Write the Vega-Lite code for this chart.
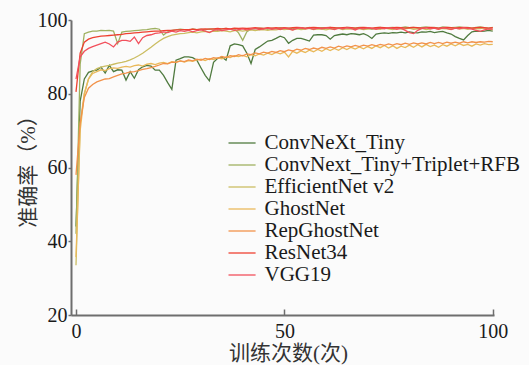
{
  "$schema": "https://vega.github.io/schema/vega-lite/v6.json",
  "autosize": {"type": "none"},
  "width": 423,
  "height": 295,
  "padding": {"left": 71, "top": 20, "right": 35, "bottom": 50},
  "background": "#fbfbfb",
  "config": {
    "view": {"stroke": null},
    "axis": {
      "grid": false,
      "domainColor": "#6e6e6e",
      "domainWidth": 2,
      "tickColor": "#6e6e6e",
      "tickWidth": 1.5,
      "labelFont": "Liberation Serif",
      "labelFontSize": 20,
      "labelColor": "#1a1a1a",
      "titleFont": "Liberation Serif, Noto Sans CJK SC",
      "titleFontSize": 21,
      "titleFontWeight": "normal",
      "titleColor": "#333333"
    }
  },
  "data": {
    "values": [
      {"epoch": 0, "ConvNeXt_Tiny": 44, "ConvNext_Tiny+Triplet+RFB": 42, "EfficientNet v2": 33.5, "GhostNet": 35.7, "RepGhostNet": 58, "ResNet34": 80.5, "VGG19": 84},
      {"epoch": 1, "ConvNeXt_Tiny": 78, "ConvNext_Tiny+Triplet+RFB": 88, "EfficientNet v2": 72, "GhostNet": 70, "RepGhostNet": 72, "ResNet34": 91, "VGG19": 90},
      {"epoch": 2, "ConvNeXt_Tiny": 84, "ConvNext_Tiny+Triplet+RFB": 96.3, "EfficientNet v2": 80, "GhostNet": 80, "RepGhostNet": 79, "ResNet34": 94, "VGG19": 91.5},
      {"epoch": 3, "ConvNeXt_Tiny": 85.8, "ConvNext_Tiny+Triplet+RFB": 96.7, "EfficientNet v2": 84, "GhostNet": 84, "RepGhostNet": 81.5, "ResNet34": 94.8, "VGG19": 92.3},
      {"epoch": 4, "ConvNeXt_Tiny": 86.2, "ConvNext_Tiny+Triplet+RFB": 97, "EfficientNet v2": 86, "GhostNet": 85.5, "RepGhostNet": 82.5, "ResNet34": 95.2, "VGG19": 92.8},
      {"epoch": 5, "ConvNeXt_Tiny": 86.4, "ConvNext_Tiny+Triplet+RFB": 97, "EfficientNet v2": 86.8, "GhostNet": 86, "RepGhostNet": 83.2, "ResNet34": 95.4, "VGG19": 93.2},
      {"epoch": 6, "ConvNeXt_Tiny": 87.2, "ConvNext_Tiny+Triplet+RFB": 97.2, "EfficientNet v2": 87.2, "GhostNet": 86.5, "RepGhostNet": 83.6, "ResNet34": 95.6, "VGG19": 93.6},
      {"epoch": 7, "ConvNeXt_Tiny": 85.6, "ConvNext_Tiny+Triplet+RFB": 97.1, "EfficientNet v2": 87.5, "GhostNet": 86.3, "RepGhostNet": 84, "ResNet34": 95.7, "VGG19": 94},
      {"epoch": 8, "ConvNeXt_Tiny": 87.7, "ConvNext_Tiny+Triplet+RFB": 97.2, "EfficientNet v2": 87.7, "GhostNet": 86.8, "RepGhostNet": 84.1, "ResNet34": 95.8, "VGG19": 93.5},
      {"epoch": 9, "ConvNeXt_Tiny": 86, "ConvNext_Tiny+Triplet+RFB": 97, "EfficientNet v2": 88, "GhostNet": 87, "RepGhostNet": 84.6, "ResNet34": 95.9, "VGG19": 92.7},
      {"epoch": 10, "ConvNeXt_Tiny": 86.5, "ConvNext_Tiny+Triplet+RFB": 93.6, "EfficientNet v2": 88.3, "GhostNet": 86.9, "RepGhostNet": 85, "ResNet34": 96, "VGG19": 94},
      {"epoch": 11, "ConvNeXt_Tiny": 86.4, "ConvNext_Tiny+Triplet+RFB": 96.7, "EfficientNet v2": 88.5, "GhostNet": 87.2, "RepGhostNet": 85.4, "ResNet34": 96.1, "VGG19": 94.5},
      {"epoch": 12, "ConvNeXt_Tiny": 83.7, "ConvNext_Tiny+Triplet+RFB": 96.9, "EfficientNet v2": 88.8, "GhostNet": 87.4, "RepGhostNet": 85.6, "ResNet34": 96.3, "VGG19": 94.5},
      {"epoch": 13, "ConvNeXt_Tiny": 86, "ConvNext_Tiny+Triplet+RFB": 97, "EfficientNet v2": 89.2, "GhostNet": 87.2, "RepGhostNet": 85.9, "ResNet34": 96.4, "VGG19": 94.2},
      {"epoch": 14, "ConvNeXt_Tiny": 84.2, "ConvNext_Tiny+Triplet+RFB": 97.1, "EfficientNet v2": 89.7, "GhostNet": 87.6, "RepGhostNet": 86, "ResNet34": 96.5, "VGG19": 95.4},
      {"epoch": 15, "ConvNeXt_Tiny": 86.5, "ConvNext_Tiny+Triplet+RFB": 97.2, "EfficientNet v2": 90.3, "GhostNet": 87.8, "RepGhostNet": 86.3, "ResNet34": 96.6, "VGG19": 93.6},
      {"epoch": 16, "ConvNeXt_Tiny": 87.3, "ConvNext_Tiny+Triplet+RFB": 97.3, "EfficientNet v2": 91, "GhostNet": 87.5, "RepGhostNet": 86.6, "ResNet34": 96.7, "VGG19": 95.2},
      {"epoch": 17, "ConvNeXt_Tiny": 87.7, "ConvNext_Tiny+Triplet+RFB": 97.4, "EfficientNet v2": 91.8, "GhostNet": 88, "RepGhostNet": 86.8, "ResNet34": 96.8, "VGG19": 95.8},
      {"epoch": 18, "ConvNeXt_Tiny": 87.5, "ConvNext_Tiny+Triplet+RFB": 97.6, "EfficientNet v2": 92.6, "GhostNet": 88.2, "RepGhostNet": 87.1, "ResNet34": 96.9, "VGG19": 96},
      {"epoch": 19, "ConvNeXt_Tiny": 86.4, "ConvNext_Tiny+Triplet+RFB": 97.7, "EfficientNet v2": 93.5, "GhostNet": 87.9, "RepGhostNet": 87.4, "ResNet34": 97, "VGG19": 96.4},
      {"epoch": 20, "ConvNeXt_Tiny": 86.4, "ConvNext_Tiny+Triplet+RFB": 97.5, "EfficientNet v2": 94.3, "GhostNet": 88.3, "RepGhostNet": 87.8, "ResNet34": 97, "VGG19": 96.5},
      {"epoch": 21, "ConvNeXt_Tiny": 85, "ConvNext_Tiny+Triplet+RFB": 95.9, "EfficientNet v2": 95, "GhostNet": 88.5, "RepGhostNet": 88.2, "ResNet34": 97.1, "VGG19": 96.8},
      {"epoch": 22, "ConvNeXt_Tiny": 83, "ConvNext_Tiny+Triplet+RFB": 96.8, "EfficientNet v2": 95.5, "GhostNet": 88.2, "RepGhostNet": 88.1, "ResNet34": 97.2, "VGG19": 96.6},
      {"epoch": 23, "ConvNeXt_Tiny": 81.2, "ConvNext_Tiny+Triplet+RFB": 97.2, "EfficientNet v2": 95.9, "GhostNet": 88.7, "RepGhostNet": 88.6, "ResNet34": 97.2, "VGG19": 97},
      {"epoch": 24, "ConvNeXt_Tiny": 89.1, "ConvNext_Tiny+Triplet+RFB": 97.3, "EfficientNet v2": 96.1, "GhostNet": 88.5, "RepGhostNet": 88.5, "ResNet34": 97.3, "VGG19": 96.7},
      {"epoch": 25, "ConvNeXt_Tiny": 89.5, "ConvNext_Tiny+Triplet+RFB": 97.5, "EfficientNet v2": 96.3, "GhostNet": 88.9, "RepGhostNet": 88.9, "ResNet34": 97.3, "VGG19": 97.1},
      {"epoch": 26, "ConvNeXt_Tiny": 90, "ConvNext_Tiny+Triplet+RFB": 97.4, "EfficientNet v2": 96.4, "GhostNet": 88.6, "RepGhostNet": 88.7, "ResNet34": 97.4, "VGG19": 96.9},
      {"epoch": 27, "ConvNeXt_Tiny": 90, "ConvNext_Tiny+Triplet+RFB": 97.2, "EfficientNet v2": 96.6, "GhostNet": 89, "RepGhostNet": 89.2, "ResNet34": 97.4, "VGG19": 97.2},
      {"epoch": 28, "ConvNeXt_Tiny": 89.8, "ConvNext_Tiny+Triplet+RFB": 97.6, "EfficientNet v2": 96.7, "GhostNet": 88.8, "RepGhostNet": 88.9, "ResNet34": 97.5, "VGG19": 96.8},
      {"epoch": 29, "ConvNeXt_Tiny": 89.1, "ConvNext_Tiny+Triplet+RFB": 97.4, "EfficientNet v2": 96.5, "GhostNet": 89.2, "RepGhostNet": 89.4, "ResNet34": 97.4, "VGG19": 97.1},
      {"epoch": 30, "ConvNeXt_Tiny": 87, "ConvNext_Tiny+Triplet+RFB": 97.5, "EfficientNet v2": 96.8, "GhostNet": 89.4, "RepGhostNet": 89.1, "ResNet34": 97.5, "VGG19": 97.3},
      {"epoch": 31, "ConvNeXt_Tiny": 85, "ConvNext_Tiny+Triplet+RFB": 97.3, "EfficientNet v2": 96.9, "GhostNet": 89, "RepGhostNet": 89.6, "ResNet34": 97.6, "VGG19": 97},
      {"epoch": 32, "ConvNeXt_Tiny": 83.5, "ConvNext_Tiny+Triplet+RFB": 97.6, "EfficientNet v2": 96.7, "GhostNet": 89.5, "RepGhostNet": 89.3, "ResNet34": 97.5, "VGG19": 96.6},
      {"epoch": 33, "ConvNeXt_Tiny": 88.5, "ConvNext_Tiny+Triplet+RFB": 97.5, "EfficientNet v2": 97, "GhostNet": 89.3, "RepGhostNet": 89.8, "ResNet34": 97.6, "VGG19": 97.2},
      {"epoch": 34, "ConvNeXt_Tiny": 89.6, "ConvNext_Tiny+Triplet+RFB": 97.2, "EfficientNet v2": 96.9, "GhostNet": 89.7, "RepGhostNet": 89.6, "ResNet34": 97.7, "VGG19": 97.4},
      {"epoch": 35, "ConvNeXt_Tiny": 90, "ConvNext_Tiny+Triplet+RFB": 97.6, "EfficientNet v2": 97.1, "GhostNet": 89.5, "RepGhostNet": 90.1, "ResNet34": 97.6, "VGG19": 97.1},
      {"epoch": 36, "ConvNeXt_Tiny": 89.1, "ConvNext_Tiny+Triplet+RFB": 97.7, "EfficientNet v2": 97, "GhostNet": 90, "RepGhostNet": 89.8, "ResNet34": 97.7, "VGG19": 97.3},
      {"epoch": 37, "ConvNeXt_Tiny": 93, "ConvNext_Tiny+Triplet+RFB": 97.5, "EfficientNet v2": 96.8, "GhostNet": 89.8, "RepGhostNet": 90.3, "ResNet34": 97.6, "VGG19": 97.5},
      {"epoch": 38, "ConvNeXt_Tiny": 93.5, "ConvNext_Tiny+Triplet+RFB": 97.6, "EfficientNet v2": 97.1, "GhostNet": 90.3, "RepGhostNet": 90.1, "ResNet34": 97.8, "VGG19": 97.2},
      {"epoch": 39, "ConvNeXt_Tiny": 93.3, "ConvNext_Tiny+Triplet+RFB": 96.5, "EfficientNet v2": 97.2, "GhostNet": 90.1, "RepGhostNet": 90.6, "ResNet34": 97.7, "VGG19": 97.4},
      {"epoch": 40, "ConvNeXt_Tiny": 93, "ConvNext_Tiny+Triplet+RFB": 94.5, "EfficientNet v2": 97, "GhostNet": 90.4, "RepGhostNet": 90.3, "ResNet34": 97.8, "VGG19": 97.6},
      {"epoch": 41, "ConvNeXt_Tiny": 91, "ConvNext_Tiny+Triplet+RFB": 96.8, "EfficientNet v2": 97.2, "GhostNet": 90, "RepGhostNet": 90.8, "ResNet34": 97.7, "VGG19": 97.3},
      {"epoch": 42, "ConvNeXt_Tiny": 88.2, "ConvNext_Tiny+Triplet+RFB": 97.5, "EfficientNet v2": 97.3, "GhostNet": 90.6, "RepGhostNet": 90.6, "ResNet34": 97.8, "VGG19": 97.5},
      {"epoch": 43, "ConvNeXt_Tiny": 92, "ConvNext_Tiny+Triplet+RFB": 97.6, "EfficientNet v2": 97.1, "GhostNet": 90.3, "RepGhostNet": 91.1, "ResNet34": 97.9, "VGG19": 97.7},
      {"epoch": 44, "ConvNeXt_Tiny": 92.7, "ConvNext_Tiny+Triplet+RFB": 97.8, "EfficientNet v2": 97.3, "GhostNet": 90.8, "RepGhostNet": 90.8, "ResNet34": 97.8, "VGG19": 97.4},
      {"epoch": 45, "ConvNeXt_Tiny": 93.5, "ConvNext_Tiny+Triplet+RFB": 97.7, "EfficientNet v2": 97.4, "GhostNet": 90.5, "RepGhostNet": 91.3, "ResNet34": 97.7, "VGG19": 97.6},
      {"epoch": 46, "ConvNeXt_Tiny": 94.3, "ConvNext_Tiny+Triplet+RFB": 97.5, "EfficientNet v2": 97.2, "GhostNet": 91, "RepGhostNet": 91, "ResNet34": 97.9, "VGG19": 97.8},
      {"epoch": 47, "ConvNeXt_Tiny": 94.5, "ConvNext_Tiny+Triplet+RFB": 97.8, "EfficientNet v2": 97.4, "GhostNet": 90.6, "RepGhostNet": 91.5, "ResNet34": 97.8, "VGG19": 97.5},
      {"epoch": 48, "ConvNeXt_Tiny": 95, "ConvNext_Tiny+Triplet+RFB": 97.6, "EfficientNet v2": 97.3, "GhostNet": 91.2, "RepGhostNet": 91.2, "ResNet34": 97.9, "VGG19": 97.7},
      {"epoch": 49, "ConvNeXt_Tiny": 95.6, "ConvNext_Tiny+Triplet+RFB": 97.9, "EfficientNet v2": 97.5, "GhostNet": 90.8, "RepGhostNet": 91.7, "ResNet34": 97.8, "VGG19": 97.4},
      {"epoch": 50, "ConvNeXt_Tiny": 95.2, "ConvNext_Tiny+Triplet+RFB": 97.7, "EfficientNet v2": 97.4, "GhostNet": 91.3, "RepGhostNet": 91.4, "ResNet34": 97.9, "VGG19": 97.8},
      {"epoch": 51, "ConvNeXt_Tiny": 93.7, "ConvNext_Tiny+Triplet+RFB": 97.8, "EfficientNet v2": 97.5, "GhostNet": 90, "RepGhostNet": 91.9, "ResNet34": 97.8, "VGG19": 97.6},
      {"epoch": 52, "ConvNeXt_Tiny": 94.5, "ConvNext_Tiny+Triplet+RFB": 97.6, "EfficientNet v2": 97.3, "GhostNet": 91.5, "RepGhostNet": 91.6, "ResNet34": 97.9, "VGG19": 97.3},
      {"epoch": 53, "ConvNeXt_Tiny": 95, "ConvNext_Tiny+Triplet+RFB": 97.9, "EfficientNet v2": 97.6, "GhostNet": 91, "RepGhostNet": 92.1, "ResNet34": 98, "VGG19": 97.7},
      {"epoch": 54, "ConvNeXt_Tiny": 95, "ConvNext_Tiny+Triplet+RFB": 97.8, "EfficientNet v2": 97.4, "GhostNet": 91.6, "RepGhostNet": 91.8, "ResNet34": 97.9, "VGG19": 97.9},
      {"epoch": 55, "ConvNeXt_Tiny": 94.7, "ConvNext_Tiny+Triplet+RFB": 97.7, "EfficientNet v2": 97.5, "GhostNet": 91.2, "RepGhostNet": 92.3, "ResNet34": 97.8, "VGG19": 97.6},
      {"epoch": 56, "ConvNeXt_Tiny": 94.3, "ConvNext_Tiny+Triplet+RFB": 98, "EfficientNet v2": 97.7, "GhostNet": 91.8, "RepGhostNet": 92, "ResNet34": 97.9, "VGG19": 97.8},
      {"epoch": 57, "ConvNeXt_Tiny": 95.9, "ConvNext_Tiny+Triplet+RFB": 97.8, "EfficientNet v2": 97.4, "GhostNet": 91.4, "RepGhostNet": 92.4, "ResNet34": 98, "VGG19": 97.5},
      {"epoch": 58, "ConvNeXt_Tiny": 96, "ConvNext_Tiny+Triplet+RFB": 97.7, "EfficientNet v2": 97.6, "GhostNet": 92, "RepGhostNet": 92.1, "ResNet34": 97.9, "VGG19": 97.8},
      {"epoch": 59, "ConvNeXt_Tiny": 96, "ConvNext_Tiny+Triplet+RFB": 97.9, "EfficientNet v2": 97.5, "GhostNet": 91.5, "RepGhostNet": 92.6, "ResNet34": 97.8, "VGG19": 97.6},
      {"epoch": 60, "ConvNeXt_Tiny": 95.8, "ConvNext_Tiny+Triplet+RFB": 97.8, "EfficientNet v2": 97.3, "GhostNet": 92.2, "RepGhostNet": 92.3, "ResNet34": 97.9, "VGG19": 97.9},
      {"epoch": 61, "ConvNeXt_Tiny": 94.8, "ConvNext_Tiny+Triplet+RFB": 98, "EfficientNet v2": 97.6, "GhostNet": 91.7, "RepGhostNet": 92.7, "ResNet34": 98, "VGG19": 97.7},
      {"epoch": 62, "ConvNeXt_Tiny": 95.8, "ConvNext_Tiny+Triplet+RFB": 97.7, "EfficientNet v2": 97.5, "GhostNet": 92.3, "RepGhostNet": 92.4, "ResNet34": 97.9, "VGG19": 97.4},
      {"epoch": 63, "ConvNeXt_Tiny": 96, "ConvNext_Tiny+Triplet+RFB": 97.9, "EfficientNet v2": 97.7, "GhostNet": 91.8, "RepGhostNet": 92.9, "ResNet34": 97.8, "VGG19": 97.8},
      {"epoch": 64, "ConvNeXt_Tiny": 96.2, "ConvNext_Tiny+Triplet+RFB": 97.8, "EfficientNet v2": 97.4, "GhostNet": 92.5, "RepGhostNet": 92.6, "ResNet34": 97.9, "VGG19": 97.6},
      {"epoch": 65, "ConvNeXt_Tiny": 96, "ConvNext_Tiny+Triplet+RFB": 98, "EfficientNet v2": 97.6, "GhostNet": 92, "RepGhostNet": 93, "ResNet34": 98, "VGG19": 97.9},
      {"epoch": 66, "ConvNeXt_Tiny": 96.3, "ConvNext_Tiny+Triplet+RFB": 97.9, "EfficientNet v2": 97.5, "GhostNet": 92.6, "RepGhostNet": 92.7, "ResNet34": 97.9, "VGG19": 97.7},
      {"epoch": 67, "ConvNeXt_Tiny": 96.2, "ConvNext_Tiny+Triplet+RFB": 97.8, "EfficientNet v2": 97.7, "GhostNet": 92.1, "RepGhostNet": 93.1, "ResNet34": 97.8, "VGG19": 97.3},
      {"epoch": 68, "ConvNeXt_Tiny": 96, "ConvNext_Tiny+Triplet+RFB": 98, "EfficientNet v2": 97.6, "GhostNet": 92.7, "RepGhostNet": 92.8, "ResNet34": 97.9, "VGG19": 97.8},
      {"epoch": 69, "ConvNeXt_Tiny": 96.3, "ConvNext_Tiny+Triplet+RFB": 97.9, "EfficientNet v2": 97.4, "GhostNet": 92.2, "RepGhostNet": 93.2, "ResNet34": 98, "VGG19": 97.6},
      {"epoch": 70, "ConvNeXt_Tiny": 95.8, "ConvNext_Tiny+Triplet+RFB": 97.7, "EfficientNet v2": 97.5, "GhostNet": 92.8, "RepGhostNet": 92.9, "ResNet34": 97.9, "VGG19": 97.9},
      {"epoch": 71, "ConvNeXt_Tiny": 95, "ConvNext_Tiny+Triplet+RFB": 97.5, "EfficientNet v2": 97.7, "GhostNet": 92.3, "RepGhostNet": 93.3, "ResNet34": 97.8, "VGG19": 97.7},
      {"epoch": 72, "ConvNeXt_Tiny": 96.2, "ConvNext_Tiny+Triplet+RFB": 97.9, "EfficientNet v2": 97.6, "GhostNet": 93, "RepGhostNet": 93, "ResNet34": 97.9, "VGG19": 97.5},
      {"epoch": 73, "ConvNeXt_Tiny": 96.4, "ConvNext_Tiny+Triplet+RFB": 98, "EfficientNet v2": 97.5, "GhostNet": 92.5, "RepGhostNet": 93.4, "ResNet34": 98, "VGG19": 97.8},
      {"epoch": 74, "ConvNeXt_Tiny": 96.5, "ConvNext_Tiny+Triplet+RFB": 97.8, "EfficientNet v2": 97.8, "GhostNet": 93.1, "RepGhostNet": 93.1, "ResNet34": 97.9, "VGG19": 97.6},
      {"epoch": 75, "ConvNeXt_Tiny": 96.4, "ConvNext_Tiny+Triplet+RFB": 97.9, "EfficientNet v2": 97.6, "GhostNet": 92.4, "RepGhostNet": 93.5, "ResNet34": 97.8, "VGG19": 97.9},
      {"epoch": 76, "ConvNeXt_Tiny": 96.6, "ConvNext_Tiny+Triplet+RFB": 98, "EfficientNet v2": 97.4, "GhostNet": 93, "RepGhostNet": 93.2, "ResNet34": 97.9, "VGG19": 97.7},
      {"epoch": 77, "ConvNeXt_Tiny": 96.5, "ConvNext_Tiny+Triplet+RFB": 97.8, "EfficientNet v2": 97.7, "GhostNet": 92.3, "RepGhostNet": 93.6, "ResNet34": 98, "VGG19": 97.5},
      {"epoch": 78, "ConvNeXt_Tiny": 96.7, "ConvNext_Tiny+Triplet+RFB": 97.9, "EfficientNet v2": 97.5, "GhostNet": 92.9, "RepGhostNet": 93.3, "ResNet34": 97.9, "VGG19": 97.8},
      {"epoch": 79, "ConvNeXt_Tiny": 96.5, "ConvNext_Tiny+Triplet+RFB": 98.1, "EfficientNet v2": 97.6, "GhostNet": 92.5, "RepGhostNet": 93.7, "ResNet34": 97.8, "VGG19": 97.2},
      {"epoch": 80, "ConvNeXt_Tiny": 96.8, "ConvNext_Tiny+Triplet+RFB": 97.9, "EfficientNet v2": 97.8, "GhostNet": 93.2, "RepGhostNet": 93.4, "ResNet34": 97.9, "VGG19": 96.6},
      {"epoch": 81, "ConvNeXt_Tiny": 96.6, "ConvNext_Tiny+Triplet+RFB": 98, "EfficientNet v2": 97.5, "GhostNet": 92.6, "RepGhostNet": 93.8, "ResNet34": 98, "VGG19": 96.3},
      {"epoch": 82, "ConvNeXt_Tiny": 96.5, "ConvNext_Tiny+Triplet+RFB": 97.8, "EfficientNet v2": 97.6, "GhostNet": 93.3, "RepGhostNet": 93.5, "ResNet34": 97.9, "VGG19": 97.2},
      {"epoch": 83, "ConvNeXt_Tiny": 96.8, "ConvNext_Tiny+Triplet+RFB": 98, "EfficientNet v2": 97.7, "GhostNet": 92.7, "RepGhostNet": 93.8, "ResNet34": 97.8, "VGG19": 97.7},
      {"epoch": 84, "ConvNeXt_Tiny": 96.7, "ConvNext_Tiny+Triplet+RFB": 98.1, "EfficientNet v2": 97.4, "GhostNet": 93.4, "RepGhostNet": 93.5, "ResNet34": 97.9, "VGG19": 97.9},
      {"epoch": 85, "ConvNeXt_Tiny": 96.9, "ConvNext_Tiny+Triplet+RFB": 97.9, "EfficientNet v2": 97.6, "GhostNet": 92.8, "RepGhostNet": 93.9, "ResNet34": 98, "VGG19": 97.6},
      {"epoch": 86, "ConvNeXt_Tiny": 96.6, "ConvNext_Tiny+Triplet+RFB": 98, "EfficientNet v2": 97.8, "GhostNet": 93.2, "RepGhostNet": 93.6, "ResNet34": 97.9, "VGG19": 97.8},
      {"epoch": 87, "ConvNeXt_Tiny": 96.8, "ConvNext_Tiny+Triplet+RFB": 97.8, "EfficientNet v2": 97.5, "GhostNet": 92.6, "RepGhostNet": 93.9, "ResNet34": 97.8, "VGG19": 97.5},
      {"epoch": 88, "ConvNeXt_Tiny": 96.9, "ConvNext_Tiny+Triplet+RFB": 98.1, "EfficientNet v2": 97.7, "GhostNet": 93.3, "RepGhostNet": 93.6, "ResNet34": 97.9, "VGG19": 97.9},
      {"epoch": 89, "ConvNeXt_Tiny": 96.5, "ConvNext_Tiny+Triplet+RFB": 98, "EfficientNet v2": 97.6, "GhostNet": 92.9, "RepGhostNet": 94, "ResNet34": 98, "VGG19": 97.7},
      {"epoch": 90, "ConvNeXt_Tiny": 96.2, "ConvNext_Tiny+Triplet+RFB": 97.9, "EfficientNet v2": 97.5, "GhostNet": 93.5, "RepGhostNet": 93.7, "ResNet34": 97.9, "VGG19": 97.4},
      {"epoch": 91, "ConvNeXt_Tiny": 95.5, "ConvNext_Tiny+Triplet+RFB": 98, "EfficientNet v2": 97.8, "GhostNet": 93, "RepGhostNet": 94, "ResNet34": 97.8, "VGG19": 97.8},
      {"epoch": 92, "ConvNeXt_Tiny": 95, "ConvNext_Tiny+Triplet+RFB": 98.1, "EfficientNet v2": 97.6, "GhostNet": 93.6, "RepGhostNet": 93.7, "ResNet34": 97.9, "VGG19": 97.6},
      {"epoch": 93, "ConvNeXt_Tiny": 94.6, "ConvNext_Tiny+Triplet+RFB": 97.9, "EfficientNet v2": 97.7, "GhostNet": 93.1, "RepGhostNet": 94.1, "ResNet34": 98, "VGG19": 97.9},
      {"epoch": 94, "ConvNeXt_Tiny": 95.8, "ConvNext_Tiny+Triplet+RFB": 98, "EfficientNet v2": 97.5, "GhostNet": 93.4, "RepGhostNet": 93.8, "ResNet34": 97.9, "VGG19": 97.7},
      {"epoch": 95, "ConvNeXt_Tiny": 96.8, "ConvNext_Tiny+Triplet+RFB": 97.8, "EfficientNet v2": 97.8, "GhostNet": 92.9, "RepGhostNet": 94.1, "ResNet34": 97.8, "VGG19": 97.5},
      {"epoch": 96, "ConvNeXt_Tiny": 97, "ConvNext_Tiny+Triplet+RFB": 98, "EfficientNet v2": 97.6, "GhostNet": 93.5, "RepGhostNet": 93.9, "ResNet34": 97.9, "VGG19": 97.2},
      {"epoch": 97, "ConvNeXt_Tiny": 96.9, "ConvNext_Tiny+Triplet+RFB": 98.1, "EfficientNet v2": 97.7, "GhostNet": 93.2, "RepGhostNet": 94.1, "ResNet34": 98, "VGG19": 96.9},
      {"epoch": 98, "ConvNeXt_Tiny": 97, "ConvNext_Tiny+Triplet+RFB": 97.9, "EfficientNet v2": 97.9, "GhostNet": 93.6, "RepGhostNet": 94, "ResNet34": 97.9, "VGG19": 97.3},
      {"epoch": 99, "ConvNeXt_Tiny": 97.2, "ConvNext_Tiny+Triplet+RFB": 97.8, "EfficientNet v2": 97.5, "GhostNet": 93.3, "RepGhostNet": 94.2, "ResNet34": 97.8, "VGG19": 97.6},
      {"epoch": 100, "ConvNeXt_Tiny": 97, "ConvNext_Tiny+Triplet+RFB": 98, "EfficientNet v2": 97.3, "GhostNet": 93.4, "RepGhostNet": 94.1, "ResNet34": 97.9, "VGG19": 97.5}
    ]
  },
  "transform": [
    {
      "fold": ["ConvNeXt_Tiny", "ConvNext_Tiny+Triplet+RFB", "EfficientNet v2", "GhostNet", "RepGhostNet", "ResNet34", "VGG19"],
      "as": ["model", "acc"]
    }
  ],
  "mark": {"type": "line", "strokeWidth": 1.3, "clip": true},
  "encoding": {
    "x": {
      "field": "epoch",
      "type": "quantitative",
      "scale": {"domain": [-1.2, 100.3], "nice": false, "zero": false},
      "axis": {
        "values": [0, 50, 100],
        "title": "训练次数(次)",
        "labelFont": "Liberation Serif",
        "tickSize": -6,
        "labelPadding": 12,
        "titleX": 217,
        "titleY": 38,
        "titleBaseline": "middle"
      }
    },
    "y": {
      "field": "acc",
      "type": "quantitative",
      "scale": {"domain": [20, 100], "nice": false, "zero": false},
      "axis": {
        "values": [20, 40, 60, 80, 100],
        "title": "准确率（%）",
        "labelFont": "Liberation Serif",
        "tickSize": 3,
        "labelPadding": 1,
        "titleX": -43,
        "titleY": 146,
        "titleBaseline": "middle",
        "titleAngle": 270
      }
    },
    "color": {
      "field": "model",
      "type": "nominal",
      "scale": {
        "domain": ["ConvNeXt_Tiny", "ConvNext_Tiny+Triplet+RFB", "EfficientNet v2", "GhostNet", "RepGhostNet", "ResNet34", "VGG19"],
        "range": ["#4f7a3f", "#9fb060", "#cbbd62", "#e9b95a", "#f2924a", "#ee4030", "#f2505c"]
      },
      "legend": {
        "title": null,
        "orient": "none",
        "legendX": 160,
        "legendY": 112,
        "padding": 0,
        "symbolType": "M-1.35,0H1.35",
        "symbolSize": 400,
        "symbolStrokeWidth": 1.3,
        "labelFont": "Liberation Serif",
        "labelFontSize": 21,
        "labelColor": "#1a1a1a",
        "labelLimit": 0,
        "labelOffset": 11.5,
        "rowPadding": 1
      }
    }
  }
}
